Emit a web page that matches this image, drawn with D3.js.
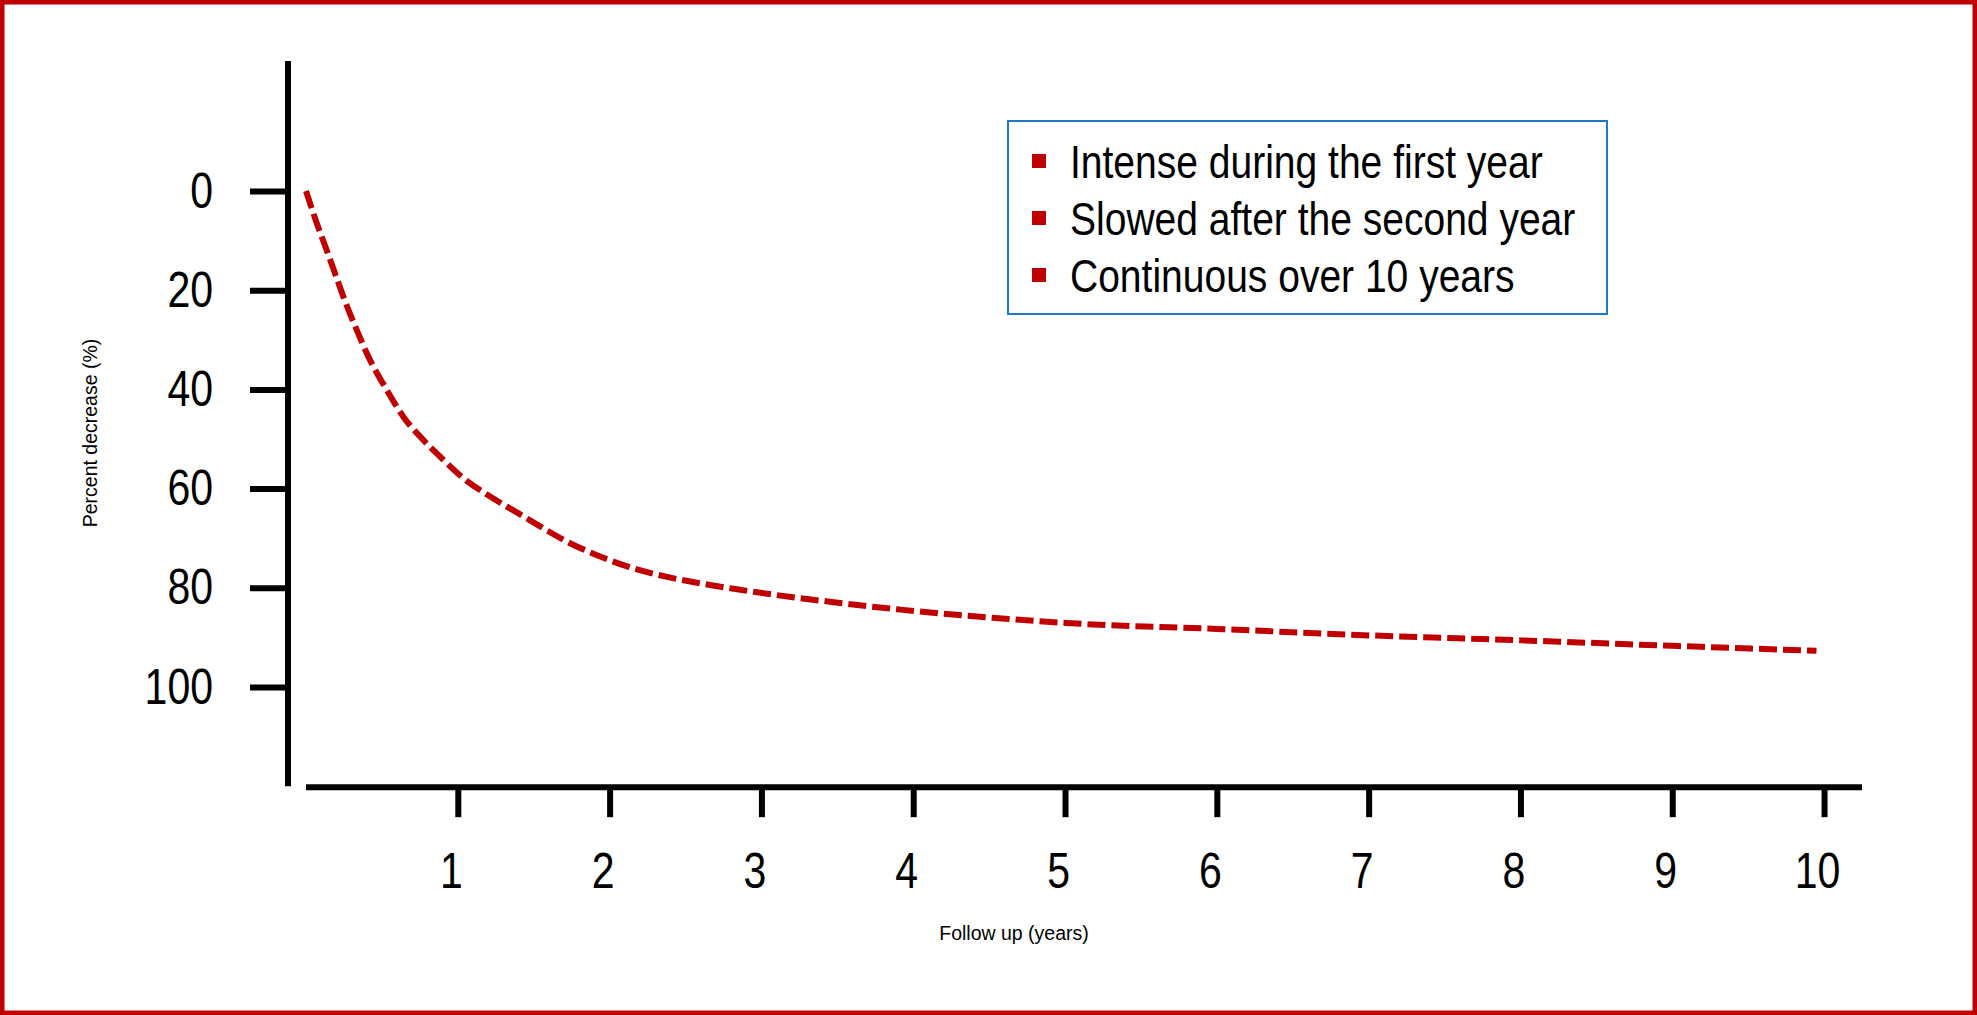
<!DOCTYPE html>
<html>
<head>
<meta charset="utf-8">
<script src="https://cdn.jsdelivr.net/npm/d3@7"></script>
<style>
  body { margin: 0; background: #fff; }
  svg { display: block; }
</style>
</head>
<body>
<script>
// curve: follow up (years) vs percent decrease
const years    = [0, 0.071, 0.136, 0.191, 0.246, 0.334, 0.422, 0.532, 0.641, 0.773, 0.905, 1.037, 1.213, 1.389, 1.498,
                  1.719, 1.938, 2.158, 2.378, 2.597, 2.817, 3.037, 3.257, 3.476, 3.696, 3.916, 4.63, 5.01, 6.0, 7.01, 8.01, 9.0, 9.95];
const decrease = [0, 6.5, 11.9, 16.6, 21.3, 28.0, 34.1, 40.1, 45.5, 50.2, 54.2, 57.9, 61.6, 64.8, 66.8,
                  70.7, 73.7, 76.1, 77.8, 79.1, 80.2, 81.2, 82.1, 82.9, 83.7, 84.4, 86.3, 87.1, 88.3, 89.6, 90.6, 91.7, 92.7];

const yTicks = [0, 20, 40, 60, 80, 100];
const xTicks = [1, 2, 3, 4, 5, 6, 7, 8, 9, 10];
const legendItems = ["Intense during the first year", "Slowed after the second year", "Continuous over 10 years"];

const width = 1977;
const height = 1015;
const red = "#c00000";
const font = "'Liberation Sans', Arial, sans-serif";

// no narrow face installed, so squeeze the text to arial-narrow width
function condense(sel, k) {
  sel.each(function() {
    const w = this.getComputedTextLength();
    d3.select(this)
        .attr("textLength", w * k)
        .attr("lengthAdjust", "spacingAndGlyphs");
  });
}

const svg = d3.select("body").append("svg")
    .attr("width", width)
    .attr("height", height);

svg.append("rect")
    .attr("width", width)
    .attr("height", height)
    .attr("fill", "#fff")
    .attr("stroke", red)
    .attr("stroke-width", 9);

// scales (axis lines run a bit past the ticks)
const x = d3.scaleLinear().domain([0, 10.25]).range([306, 1862]);
const y = d3.scaleLinear().domain([0, 100]).range([191, 687]);
const yAxisExtent = [-26.2, 120];

// y axis
svg.append("line")
    .attr("x1", 288).attr("x2", 288)
    .attr("y1", y(yAxisExtent[0])).attr("y2", y(yAxisExtent[1]))
    .attr("stroke", "#000")
    .attr("stroke-width", 6);

const yAxis = svg.append("g")
    .attr("transform", "translate(288,0)")
    .call(d3.axisLeft(y).tickValues(yTicks).tickSize(38).tickPadding(37));
yAxis.select(".domain").remove();
yAxis.selectAll(".tick line").attr("stroke-width", 6);
yAxis.selectAll(".tick text")
    .attr("font-family", font)
    .attr("font-size", 50)
    .attr("fill", "#000")
    .call(condense, 0.82);

// x axis
const axisY = y(yAxisExtent[1]) + 1;
svg.append("line")
    .attr("x1", x.range()[0]).attr("x2", x.range()[1])
    .attr("y1", axisY).attr("y2", axisY)
    .attr("stroke", "#000")
    .attr("stroke-width", 6);

const xAxis = svg.append("g")
    .attr("transform", `translate(0,${axisY})`)
    .call(d3.axisBottom(x).tickValues(xTicks).tickSize(30).tickPadding(35));
xAxis.select(".domain").remove();
xAxis.selectAll(".tick line").attr("stroke-width", 6);
xAxis.selectAll(".tick text")
    .attr("font-family", font)
    .attr("font-size", 50)
    .attr("dx", -7)
    .attr("fill", "#000")
    .call(condense, 0.82);

// axis titles
svg.append("text")
    .attr("transform", "translate(97,433) rotate(-90)")
    .attr("text-anchor", "middle")
    .attr("font-family", font)
    .attr("font-size", 19.5)
    .text("Percent decrease (%)");

svg.append("text")
    .attr("x", 1014)
    .attr("y", 940)
    .attr("text-anchor", "middle")
    .attr("font-family", font)
    .attr("font-size", 19.5)
    .text("Follow up (years)");

// dashed curve
const line = d3.line()
    .x((d, i) => x(years[i]))
    .y(d => y(d))
    .curve(d3.curveMonotoneX);

svg.append("path")
    .datum(decrease)
    .attr("d", line)
    .attr("fill", "none")
    .attr("stroke", red)
    .attr("stroke-width", 6)
    .attr("stroke-dasharray", "18,6");

// legend box
const legend = svg.append("g");
legend.append("rect")
    .attr("x", 1008)
    .attr("y", 121)
    .attr("width", 599)
    .attr("height", 193)
    .attr("fill", "#fff")
    .attr("stroke", "#1f78c8")
    .attr("stroke-width", 2);

const item = legend.selectAll("g.item")
    .data(legendItems)
    .join("g")
    .attr("class", "item")
    .attr("transform", (d, i) => `translate(0,${178 + i * 57})`);

item.append("rect")
    .attr("x", 1032)
    .attr("y", -24)
    .attr("width", 14)
    .attr("height", 14)
    .attr("fill", red);

item.append("text")
    .attr("x", 1070)
    .attr("font-family", font)
    .attr("font-size", 47)
    .attr("fill", "#000")
    .text(d => d)
    .call(condense, 0.83);
</script>
</body>
</html>
